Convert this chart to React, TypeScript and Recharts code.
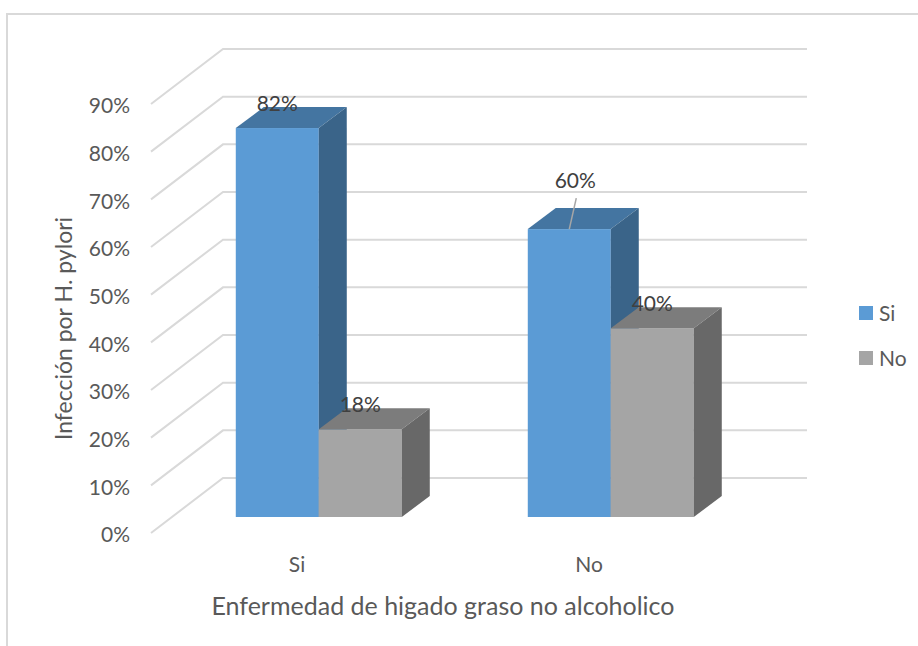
import React from "react";
import {
  Bar,
  BarChart,
  CartesianGrid,
  Label,
  LabelList,
  Legend,
  XAxis,
  YAxis,
} from "recharts";

const categories = ["Si", "No"];
const siValues = [81.6, 60.4];
const noValues = [18.4, 39.6];
const yTicks = [0, 10, 20, 30, 40, 50, 60, 70, 80, 90];

const data = categories.map((name, i) => ({
  name,
  Si: siValues[i],
  No: noValues[i],
}));

const FONT = "Lato, Carlito, sans-serif";
const TEXT = "#595959";
const GRID = "#d9d9d9";

// floor/wall offset of the fake 3D box
const WALL_DX = 72;
const WALL_DY = 55;
// bars stand in the middle of the floor
const BAR_SHIFT_X = 22;
const BAR_SHIFT_Y = 16;
const DEPTH_X = 28;
const DEPTH_Y = 21;

const gridLine = (props: any) => {
  const { x1, x2, y1, key } = props;
  const pts = `${x1},${y1} ${x1 + WALL_DX},${y1 - WALL_DY} ${x2 + WALL_DX},${y1 - WALL_DY}`;
  return (
    <polyline key={key} points={pts} fill="none" stroke={GRID} strokeWidth={2} />
  );
};

const box3d = (front: string, top: string, side: string) => (props: any) => {
  const { x, y, width, height } = props;
  const l = x + BAR_SHIFT_X;
  const r = l + width;
  const t = y - BAR_SHIFT_Y;
  const b = t + height;
  return (
    <g>
      <rect x={l} y={t} width={width} height={height} fill={front} />
      <polygon
        points={`${l},${t} ${l + DEPTH_X},${t - DEPTH_Y} ${r + DEPTH_X},${t - DEPTH_Y} ${r},${t}`}
        fill={top}
      />
      <polygon
        points={`${r},${t} ${r + DEPTH_X},${t - DEPTH_Y} ${r + DEPTH_X},${b - DEPTH_Y} ${r},${b}`}
        fill={side}
      />
    </g>
  );
};

const valueLabel = (series: string) => (props: any) => {
  const { x, y, width, value, index } = props;
  const cx = x + width / 2 + BAR_SHIFT_X;
  const top = y - BAR_SHIFT_Y;
  const moved = series === "Si" && index === 1;
  return (
    <g>
      {moved && (
        <line x1={cx} y1={top} x2={cx + 7} y2={top - 31} stroke="#a6a6a6" strokeWidth={1.5} />
      )}
      <text
        x={moved ? cx + 6 : cx}
        y={moved ? top - 50 : top - 26}
        textAnchor="middle"
        dominantBaseline="central"
        fontFamily={FONT}
        fontSize={21}
        fill="#404040"
      >
        {`${Math.round(value)}%`}
      </text>
    </g>
  );
};

const legendContent = (props: any) => (
  <div style={{ fontFamily: FONT, fontSize: 21, color: TEXT }}>
    {props.payload.map((p: any) => (
      <div
        key={p.value}
        style={{ display: "flex", alignItems: "center", height: 45 }}
      >
        <span
          style={{
            width: 14,
            height: 14,
            background: p.color,
            marginRight: 6,
            display: "inline-block",
          }}
        />
        {p.value}
      </div>
    ))}
  </div>
);

export default function App() {
  return (
    <div
      style={{
        position: "absolute",
        left: 0,
        top: 0,
        width: 918,
        height: 646,
        overflow: "hidden",
        background: "#fff",
      }}
    >
      <div
        style={{
          position: "absolute",
          left: 6,
          top: 13,
          width: 930,
          height: 650,
          border: `2px solid ${GRID}`,
        }}
      />
      <BarChart
        width={918}
        height={646}
        data={data}
        barCategoryGap="21.5%"
        barGap={0}
        margin={{ top: 104, right: 124, bottom: 63, left: 0 }}
        style={{ position: "absolute", left: 0, top: 0 }}
      >
        <CartesianGrid vertical={false} horizontal={gridLine} />
        <XAxis
          dataKey="name"
          axisLine={false}
          tickLine={false}
          tickMargin={18}
          height={50}
          tick={{ fontFamily: FONT, fontSize: 21, fill: TEXT }}
        >
          <Label
            value="Enfermedad de higado graso no alcoholico"
            position="bottom"
            offset={14}
            style={{ fontFamily: FONT, fontSize: 25, fill: TEXT }}
          />
        </XAxis>
        <YAxis
          width={151}
          domain={[0, 90]}
          ticks={yTicks}
          axisLine={false}
          tickLine={false}
          tickMargin={15}
          tickFormatter={(v) => `${v}%`}
          tick={{ fontFamily: FONT, fontSize: 21, fill: TEXT, dy: 2 }}
        >
          <Label
            value="Infección por H. pylori"
            angle={-90}
            position="insideLeft"
            offset={64}
            dy={10}
            style={{ fontFamily: FONT, fontSize: 23, fill: TEXT, textAnchor: "middle" }}
          />
        </YAxis>
        <Legend
          layout="vertical"
          align="right"
          verticalAlign="middle"
          content={legendContent}
          itemSorter={null}
          wrapperStyle={{ left: 859, top: 290, width: 59 }}
        />
        <Bar
          dataKey="Si"
          fill="#5b9bd5"
          isAnimationActive={false}
          shape={box3d("#5b9bd5", "#4475a1", "#3a6489")}
        >
          <LabelList dataKey="Si" content={valueLabel("Si")} />
        </Bar>
        <Bar
          dataKey="No"
          fill="#a5a5a5"
          isAnimationActive={false}
          shape={box3d("#a5a5a5", "#7c7c7c", "#686868")}
        >
          <LabelList dataKey="No" content={valueLabel("No")} />
        </Bar>
      </BarChart>
    </div>
  );
}
